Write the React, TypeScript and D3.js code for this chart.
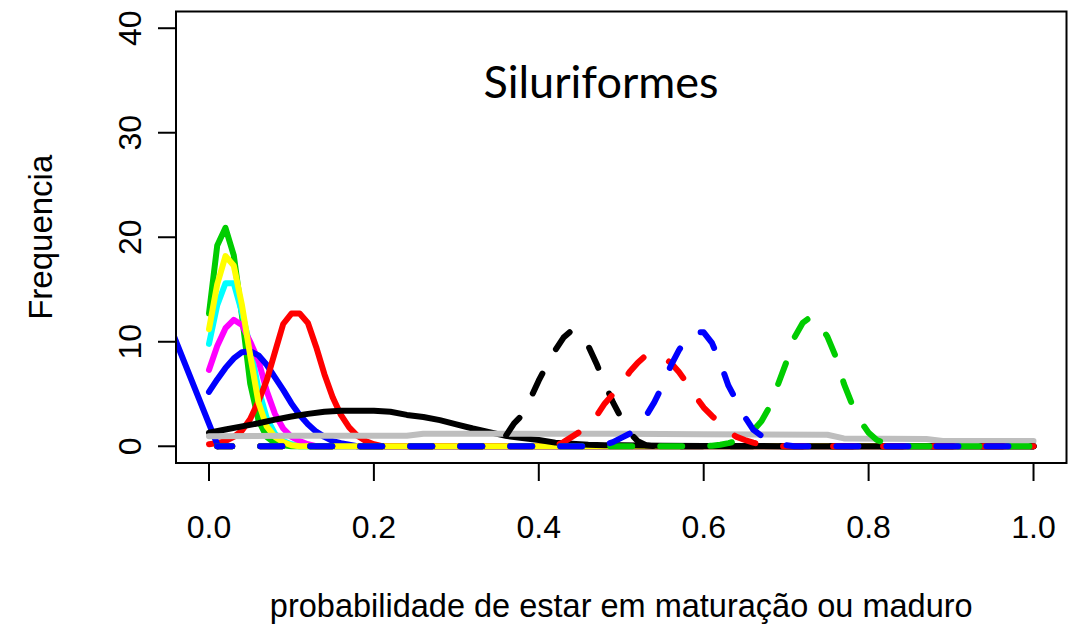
import React from "react";
import * as d3 from "d3";

// ---- data ----
const xTicks = [0, 0.2, 0.4, 0.6, 0.8, 1.0];
const xTickLabels = ["0.0", "0.2", "0.4", "0.6", "0.8", "1.0"];
const yTicks = [0, 10, 20, 30, 40];
const yTickLabels = ["0", "10", "20", "30", "40"];

const greenSolidX = [0, 0.01, 0.02, 0.03, 0.04, 0.05, 0.06, 0.07, 0.08, 0.09, 0.1, 1.0];
const greenSolidY = [12.7, 19.2, 20.9, 18.3, 12.5, 6.0, 2.5, 0.9, 0.3, 0.1, 0, 0];

const cyanSolidX = [0, 0.01, 0.02, 0.03, 0.04, 0.05, 0.06, 0.07, 0.08, 0.09, 0.1, 0.11, 1.0];
const cyanSolidY = [9.8, 13.5, 15.6, 15.6, 12.8, 9.5, 5.5, 2.7, 1.2, 0.5, 0.2, 0, 0];

const magentaSolidX = [0, 0.01, 0.02, 0.03, 0.04, 0.05, 0.06, 0.07, 0.08, 0.09, 0.1, 0.11, 0.12, 0.13, 1.0];
const magentaSolidY = [7.3, 9.6, 11.3, 12.1, 11.6, 10.0, 8.2, 5.3, 3.1, 1.7, 0.9, 0.5, 0.2, 0, 0];

const blueSolidX = [0, 0.01, 0.02, 0.03, 0.04, 0.05, 0.06, 0.07, 0.08, 0.09, 0.1, 0.11, 0.12, 0.13, 0.14, 0.15, 0.16, 0.17, 0.18, 1.0];
const blueSolidY = [5.2, 6.4, 7.5, 8.4, 9.0, 9.1, 8.7, 7.8, 6.6, 5.4, 4.1, 3.0, 2.1, 1.4, 0.9, 0.5, 0.3, 0.15, 0, 0];

const redSolidX = [0, 0.01, 0.02, 0.03, 0.04, 0.05, 0.06, 0.07, 0.08, 0.09, 0.1, 0.11, 0.12, 0.13, 0.14, 0.15, 0.16, 0.17, 0.18, 0.19, 0.2, 0.21, 1.0];
const redSolidY = [0.2, 0.3, 0.5, 0.9, 1.5, 2.6, 4.3, 6.3, 9.0, 11.7, 12.7, 12.7, 11.8, 9.5, 6.9, 4.7, 3.0, 1.8, 1.0, 0.5, 0.2, 0, 0];

const blueSteepX = [-0.05, 0.011];
const blueSteepY = [12.0, 0];

const yellowSolidX = [0, 0.01, 0.02, 0.03, 0.04, 0.05, 0.06, 0.07, 0.08, 0.09, 0.1, 0.11, 1.0];
const yellowSolidY = [11.2, 15.5, 18.2, 17.3, 13.5, 8.7, 4.2, 1.9, 0.9, 0.4, 0.1, 0, 0];

const blackSolidX = [0, 0.02, 0.04, 0.06, 0.08, 0.1, 0.12, 0.14, 0.16, 0.18, 0.2, 0.22, 0.24, 0.26, 0.28, 0.3, 0.32, 0.34, 0.36, 0.38, 0.4, 0.42, 0.44, 0.46, 0.48, 0.5, 0.55, 0.6, 0.7, 1.0];
const blackSolidY = [1.3, 1.6, 1.9, 2.2, 2.55, 2.85, 3.1, 3.3, 3.4, 3.4, 3.4, 3.3, 3.0, 2.8, 2.5, 2.1, 1.7, 1.35, 1.0, 0.8, 0.6, 0.35, 0.25, 0.15, 0.1, 0.1, 0.05, 0.03, 0.01, 0];

const graySolidX = [0, 0.1, 0.2, 0.24, 0.26, 0.5, 0.6, 0.75, 0.77, 0.87, 0.89, 1.0];
const graySolidY = [0.95, 1.0, 1.0, 1.0, 1.2, 1.2, 1.15, 1.1, 0.75, 0.7, 0.5, 0.5];

const blackDashX = [0.01, 0.34, 0.35, 0.36, 0.37, 0.38, 0.39, 0.4, 0.41, 0.42, 0.43, 0.44, 0.45, 0.46, 0.47, 0.48, 0.49, 0.5, 0.51, 0.52, 0.53, 0.54, 1.0];
const blackDashY = [0, 0, 0.2, 1.0, 2.2, 3.0, 4.6, 6.3, 7.8, 9.2, 10.4, 11.1, 10.6, 9.6, 7.9, 6.0, 4.2, 2.7, 1.3, 0.5, 0.1, 0, 0];

const redDashX = [0.01, 0.42, 0.43, 0.44, 0.45, 0.46, 0.47, 0.48, 0.49, 0.5, 0.51, 0.52, 0.53, 0.54, 0.55, 0.56, 0.57, 0.58, 0.59, 0.6, 0.61, 0.62, 0.63, 0.64, 0.65, 0.66, 0.67, 0.68, 0.69, 1.0];
const redDashY = [0, 0, 0.4, 0.9, 1.4, 2.0, 2.9, 4.1, 5.0, 5.9, 7.1, 8.0, 8.7, 8.8, 8.5, 8.0, 7.1, 6.0, 4.8, 3.7, 2.9, 2.2, 1.4, 0.9, 0.6, 0.35, 0.15, 0.05, 0, 0];

const greenDashX = [0.01, 0.6, 0.61, 0.62, 0.63, 0.64, 0.65, 0.66, 0.67, 0.68, 0.69, 0.7, 0.71, 0.72, 0.73, 0.74, 0.75, 0.76, 0.77, 0.78, 0.79, 0.8, 0.81, 0.82, 0.83, 0.84, 1.0];
const greenDashY = [0, 0, 0.05, 0.15, 0.3, 0.5, 0.9, 1.5, 2.4, 3.8, 5.9, 8.0, 10.4, 11.8, 12.4, 11.7, 10.5, 8.6, 6.0, 4.0, 2.4, 1.3, 0.6, 0.3, 0.1, 0, 0];

const blueDashX = [0.01, 0.47, 0.48, 0.49, 0.5, 0.51, 0.52, 0.53, 0.54, 0.55, 0.56, 0.57, 0.58, 0.59, 0.6, 0.61, 0.62, 0.63, 0.64, 0.65, 0.66, 0.67, 0.68, 0.69, 0.7, 0.71, 1.0];
const blueDashY = [0, 0, 0.15, 0.4, 0.8, 1.2, 1.8, 2.9, 4.2, 5.8, 7.7, 9.2, 10.4, 10.9, 10.9, 9.9, 8.0, 5.8, 4.3, 2.8, 1.6, 1.0, 0.7, 0.3, 0.1, 0, 0];

const title = "Siluriformes";
const xLabel = "probabilidade de estar em maturação ou maduro";
const yLabel = "Frequencia";

// series in drawing order
const series = [
  { xs: greenSolidX, ys: greenSolidY, color: "#00CD00", dashed: false },
  { xs: cyanSolidX, ys: cyanSolidY, color: "#00FFFF", dashed: false },
  { xs: magentaSolidX, ys: magentaSolidY, color: "#FF00FF", dashed: false },
  { xs: blueSolidX, ys: blueSolidY, color: "#0000FF", dashed: false },
  { xs: redSolidX, ys: redSolidY, color: "#FF0000", dashed: false },
  { xs: blueSteepX, ys: blueSteepY, color: "#0000FF", dashed: false },
  { xs: yellowSolidX, ys: yellowSolidY, color: "#FFFF00", dashed: false },
  { xs: blackSolidX, ys: blackSolidY, color: "#000000", dashed: false },
  { xs: graySolidX, ys: graySolidY, color: "#BEBEBE", dashed: false },
  { xs: blackDashX, ys: blackDashY, color: "#000000", dashed: true },
  { xs: redDashX, ys: redDashY, color: "#FF0000", dashed: true },
  { xs: greenDashX, ys: greenDashY, color: "#00CD00", dashed: true },
  { xs: blueDashX, ys: blueDashY, color: "#0000FF", dashed: true },
];

export default function App() {
  const W = 1076;
  const H = 634;
  const left = 176, right = 1066.5, top = 11.5, bottom = 463;
  const x = d3.scaleLinear().domain([-0.04, 1.04]).range([left, right]);
  const y = d3.scaleLinear().domain([-1.6, 41.6]).range([bottom, top]);
  const line = d3
    .line<[number, number]>()
    .x((d) => x(d[0]))
    .y((d) => y(d[1]));
  const font = "'Liberation Sans', Arial, sans-serif";
  const tickLen = 18;

  return (
    <svg
      width={W}
      height={H}
      style={{ position: "absolute", left: 0, top: 0, background: "#fff" }}
    >
      <defs>
        <clipPath id="plotclip">
          <rect x={left} y={top} width={right - left} height={bottom - top} />
        </clipPath>
      </defs>
      <rect x={0} y={0} width={W} height={H} fill="#fff" />
      <g clipPath="url(#plotclip)">
        {series.map((s, i) => (
          <path
            key={i}
            d={line(s.xs.map((v, j) => [v, s.ys[j]] as [number, number])) || ""}
            fill="none"
            stroke={s.color}
            strokeWidth={6}
            strokeLinecap="round"
            strokeLinejoin="round"
            strokeDasharray={s.dashed ? "22 28" : undefined}
            strokeDashoffset={s.dashed ? 7 : undefined}
          />
        ))}
      </g>
      <rect
        x={left}
        y={top}
        width={right - left}
        height={bottom - top}
        fill="none"
        stroke="#000"
        strokeWidth={2}
      />
      {xTicks.map((t, i) => (
        <g key={"xt" + i}>
          <line x1={x(t)} x2={x(t)} y1={bottom} y2={bottom + tickLen} stroke="#000" strokeWidth={2} />
          <text
            x={x(t)}
            y={538}
            textAnchor="middle"
            fontFamily={font}
            fontSize={32}
            fill="#000"
          >
            {xTickLabels[i]}
          </text>
        </g>
      ))}
      {yTicks.map((t, i) => (
        <g key={"yt" + i}>
          <line x1={left - tickLen} x2={left} y1={y(t)} y2={y(t)} stroke="#000" strokeWidth={2} />
          <text
            transform={`translate(141,${y(t)}) rotate(-90)`}
            textAnchor="middle"
            fontFamily={font}
            fontSize={32}
            fill="#000"
          >
            {yTickLabels[i]}
          </text>
        </g>
      ))}
      <text
        x={(left + right) / 2}
        y={617}
        textAnchor="middle"
        fontFamily={font}
        fontSize={32.5}
        fill="#000"
      >
        {xLabel}
      </text>
      <text
        transform={`translate(52,${(top + bottom) / 2}) rotate(-90)`}
        textAnchor="middle"
        fontFamily={font}
        fontSize={33}
        fill="#000"
      >
        {yLabel}
      </text>
      <text
        x={601}
        y={98}
        textAnchor="middle"
        fontFamily="Lato, 'Open Sans', sans-serif"
        fontSize={45}
        fill="#000"
      >
        {title}
      </text>
    </svg>
  );
}
